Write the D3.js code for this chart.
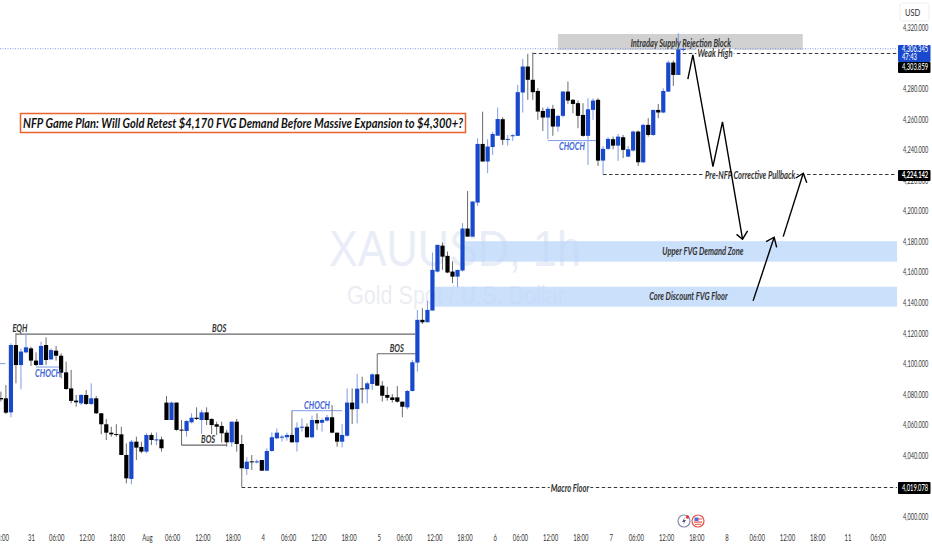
<!DOCTYPE html>
<html><head><meta charset="utf-8">
<script src="https://cdn.jsdelivr.net/npm/d3@7"></script>
<style>
html,body{margin:0;padding:0;background:#fff;overflow:hidden}
svg{display:block}
text{font-family:Lato,"Liberation Sans",sans-serif}
</style></head><body><div id="chart"></div>
<script>
// ---------- data: candles start at hour index -6 (index 0 = 31 July open) ----------
const firstIndex = -6;
const opens = [4077.6,4077.4,4068.2,4112.3,4099.2,4107.5,4110.1,4102.1,4099.2,4112.3,4102.9,4108.6,4105.3,4094.4,4083.9,4075.9,4074.1,4079.6,4073.7,4077.4,4067.6,4060.4,4054.9,4054.0,4053.8,4040.3,4024.6,4049.0,4045.5,4042.5,4053.4,4050.1,4050.5,4074.6,4063.2,4074.6,4056.9,4056.0,4061.7,4064.7,4063.2,4068.2,4063.9,4060.4,4059.3,4054.9,4048.6,4062.1,4047.5,4031.1,4036.1,4035.7,4037.0,4030.0,4042.9,4051.2,4051.6,4051.9,4053.4,4048.6,4058.4,4058.8,4051.9,4063.2,4061.4,4062.8,4065.0,4054.9,4049.0,4052.9,4074.6,4070.4,4083.9,4083.3,4086.8,4093.1,4085.7,4079.6,4078.0,4078.0,4075.2,4071.5,4082.2,4100.8,4128.8,4127.2,4134.9,4160.4,4177.4,4170.7,4160.4,4157.1,4161.1,4188.6,4183.3,4205.6,4244.0,4232.5,4242.0,4249.4,4260.2,4246.7,4249.1,4249.3,4277.7,4294.7,4286.0,4278.7,4265.6,4261.3,4267.0,4255.4,4262.4,4278.3,4272.9,4270.7,4263.0,4249.3,4266.3,4272.9,4233.1,4240.8,4247.1,4242.9,4248.4,4235.7,4239.7,4252.1,4232.0,4256.5,4249.9,4266.3,4264.6,4278.3,4297.3,4289.2,4305.6];
const highs = [4081.8,4086.1,4113.4,4120.0,4110.1,4119.5,4111.2,4107.5,4114.5,4117.3,4110.1,4111.7,4106.9,4101.4,4096.0,4079.6,4080.2,4082.9,4087.2,4078.9,4067.6,4063.9,4058.8,4060.4,4058.8,4047.9,4050.1,4052.3,4049.0,4054.5,4054.9,4055.1,4052.3,4078.9,4075.2,4074.6,4063.2,4063.2,4067.6,4071.5,4069.8,4071.5,4064.3,4062.1,4062.1,4056.7,4062.1,4063.9,4053.4,4038.8,4040.3,4037.4,4037.0,4044.6,4055.1,4057.7,4053.4,4054.9,4054.5,4061.7,4064.3,4061.0,4066.0,4067.6,4064.3,4066.5,4073.0,4054.9,4060.6,4083.9,4083.9,4093.3,4091.6,4088.3,4093.8,4106.6,4088.7,4085.0,4080.2,4085.5,4075.2,4082.9,4102.5,4135.3,4136.4,4141.4,4172.9,4177.9,4179.4,4173.5,4167.0,4161.5,4192.1,4213.2,4206.3,4247.7,4265.1,4247.1,4252.0,4267.8,4261.5,4249.9,4250.4,4282.7,4299.7,4303.0,4303.9,4280.5,4267.8,4268.5,4269.6,4263.0,4278.7,4284.9,4273.3,4272.4,4270.7,4273.9,4273.9,4273.9,4242.7,4248.4,4248.8,4250.6,4249.9,4242.7,4252.8,4252.8,4257.1,4260.9,4266.3,4270.2,4280.5,4298.6,4298.6,4316.5,4307.8];
const lows = [4075.2,4067.1,4065.0,4087.2,4083.3,4106.9,4098.6,4098.6,4099.2,4099.2,4102.5,4102.1,4090.5,4082.9,4074.1,4071.9,4073.0,4073.0,4073.0,4067.1,4053.8,4050.1,4052.3,4052.3,4040.3,4021.7,4021.1,4037.0,4041.4,4041.4,4046.8,4046.8,4042.5,4063.2,4063.2,4056.2,4046.8,4052.3,4061.0,4063.2,4054.0,4059.9,4054.0,4053.4,4048.4,4045.7,4045.7,4042.5,4026.1,4027.2,4030.5,4034.8,4030.0,4030.0,4042.5,4050.6,4049.0,4049.7,4048.4,4042.5,4055.6,4051.6,4051.2,4056.7,4055.6,4062.1,4054.5,4045.7,4045.3,4052.3,4060.6,4061.0,4074.1,4074.1,4082.9,4085.7,4075.2,4075.9,4074.6,4074.6,4065.0,4070.2,4081.8,4094.9,4126.1,4127.2,4134.9,4159.8,4161.5,4159.3,4152.8,4150.2,4160.4,4183.3,4183.3,4203.4,4232.5,4224.8,4236.8,4249.2,4243.4,4242.9,4246.0,4249.3,4264.6,4272.9,4272.9,4259.8,4252.5,4247.1,4249.3,4252.1,4261.5,4270.2,4264.1,4254.3,4248.8,4230.3,4259.8,4229.6,4224.1,4240.1,4240.5,4232.9,4234.7,4235.3,4239.0,4229.6,4231.4,4248.8,4249.3,4260.9,4264.1,4277.9,4282.0,4289.2,4304.5];
const closes = [4076.7,4068.0,4112.3,4099.2,4108.0,4110.8,4102.1,4099.2,4111.7,4102.5,4109.0,4105.3,4094.2,4083.5,4075.7,4074.8,4079.6,4073.7,4077.4,4067.6,4060.4,4054.9,4053.8,4053.4,4040.3,4025.0,4049.0,4045.1,4042.5,4053.4,4050.1,4050.5,4044.7,4063.2,4074.6,4056.7,4056.4,4062.5,4064.7,4063.9,4068.2,4063.2,4059.9,4058.8,4054.5,4048.6,4062.1,4047.5,4031.6,4035.9,4035.7,4036.1,4030.0,4042.9,4051.9,4054.9,4052.3,4053.4,4048.6,4058.2,4058.8,4051.9,4063.2,4061.0,4063.2,4065.0,4054.9,4049.0,4053.4,4074.6,4070.2,4083.7,4083.3,4087.2,4093.1,4085.7,4079.1,4077.8,4076.3,4075.2,4071.9,4082.2,4101.0,4128.8,4127.2,4135.3,4161.5,4177.9,4170.2,4159.8,4157.1,4161.5,4188.6,4183.3,4206.3,4244.0,4232.5,4242.3,4250.5,4260.3,4246.7,4247.3,4249.7,4277.9,4294.7,4286.0,4277.9,4265.2,4261.3,4267.0,4255.4,4262.4,4278.3,4272.4,4270.2,4262.4,4249.3,4266.7,4272.4,4233.1,4240.8,4247.3,4242.9,4248.8,4240.1,4240.5,4252.1,4232.0,4256.5,4249.9,4266.3,4264.6,4278.7,4297.3,4289.2,4306.0,4306.3];

// time axis: [hour index, label]
const timeTickIndex = [-6,0,5,11,17,23,28,34,40,46,51,57,63,69,74,80,86,92,97,103,109,115,120,126,132,138,144,150,156,162,168];
const timeTickLabels = ["18:00","31","06:00","12:00","18:00","Aug","06:00","12:00","18:00","4","06:00","12:00","18:00","5","06:00","12:00","18:00","6","06:00","12:00","18:00","7","06:00","12:00","18:00","8","06:00","12:00","18:00","11","06:00"];
const priceTicks = [4000,4020,4040,4060,4080,4100,4120,4140,4160,4180,4200,4220,4240,4260,4280,4300,4320];

const lastIndex = 172.6;
// zones: [from index, to index, low price, high price]
const demandZones = [[86.5,lastIndex,4166.9,4180.3],[80.5,lastIndex,4137.4,4150.5]];
const supplyZone = [105,153.8,4305.6,4316];
// structure lines: [from index, to index, price]
const greyLines = [[-3,76.6,4119.5],[30,39,4046.8],[69,76.6,4106.6]];
const blueLines = [[-6.2,-5.1,4100.1],[1,5.8,4097.9],[52,62,4069.3],[103,113,4246.2]];
// vertical connectors: [index, price a, price b]
const connectors = [[52,4054,4069.3],[42,4019.078,4026.1]];
// dashed levels: [from index, price]
const dashedLevels = [[100,4303.859],[114,4224.142],[42,4019.078]];
const currentPrice = 4306.345;
// labels: [text, index, price]
const blueLabels = [["CHOCH",3.4,4094],["CHOCH",57,4073],["CHOCH",107.8,4242.7]];
const darkLabels = [["EQH",-2.2,4123.5],["BOS",37.5,4123.5],["BOS",35.3,4050.8],["BOS",72.9,4110.4],
  ["Intraday Supply Rejection Block",129.5,4310.2],["Upper FVG Demand Zone",133.9,4173.9],["Core Discount FVG Floor",131,4144]];
const levelLabels = [["Weak High",136.3,4303.6],["Pre-NFP Corrective Pullback",143.3,4223.7],["Macro Floor",107.4,4018.7]];
// projected path arrows: [index, price] vertices, then two head legs
const arrows = [
 {path:[[130.9,4286.4],[131.9,4302.3],[135.9,4229.1],[137.8,4258.4],[141.8,4181.6]],head:[[140.6,4184.8],[142.8,4187.0]]},
 {path:[[143.9,4141.2],[148.1,4182.9]],head:[[146.5,4180.0],[148.6,4176.3]]},
 {path:[[149.9,4183.3],[153.9,4224.8]],head:[[152.4,4221.7],[154.6,4218.6]]}
];
const title = "NFP Game Plan: Will Gold Retest $4,170 FVG Demand Before Massive Expansion to $4,300+?";
const symbolText = "XAUUSD, 1h";
const symbolName = "Gold Spot / U.S. Dollar";

// ---------- chart ----------
const W=932,H=550,BLUE="#1848cc",BLUEW="#7f9be8",BLACK="#000",BLACKW="#6b6b6b";
const svg=d3.select("#chart").append("svg").attr("width",W).attr("height",H);
const x=d3.scaleLinear().domain([0,1]).range([31,36.018]);
const xTime=d3.scaleLinear().domain([0,1]).range([31,36.04]);
const y=d3.scaleLinear().domain([4000,4320]).range([516.5,27.9]);
const candles=opens.map((o,k)=>({i:firstIndex+k,o,h:highs[k],l:lows[k],c:closes[k],up:closes[k]>=o}));
// narrow a text selection horizontally (the reference uses a condensed face)
const squeeze=(sel,f)=>sel.each(function(){const n=this.getComputedTextLength();
  d3.select(this).attr("textLength",n*f).attr("lengthAdjust","spacingAndGlyphs");});

// watermark
svg.append("text").attr("x",455).attr("y",266).attr("text-anchor","middle").attr("font-size",50).attr("fill","#e9edf7")
  .style("font-family","'Liberation Sans',sans-serif").attr("textLength",252).attr("lengthAdjust","spacingAndGlyphs").text(symbolText);
svg.append("text").attr("x",456).attr("y",304).attr("text-anchor","middle").attr("font-size",25).attr("fill","#ebedf3")
  .style("font-family","'Liberation Sans',sans-serif").attr("textLength",218).attr("lengthAdjust","spacingAndGlyphs").text(symbolName);

// zones
svg.selectAll(".z").data(demandZones).join("rect").attr("x",d=>x(d[0])).attr("width",d=>x(d[1])-x(d[0]))
  .attr("y",d=>y(d[3])).attr("height",d=>y(d[2])-y(d[3])).attr("fill","#bcd7fa").attr("fill-opacity",.78);
svg.append("rect").datum(supplyZone).attr("x",d=>x(d[0])).attr("width",d=>x(d[1])-x(d[0]))
  .attr("y",d=>y(d[3])).attr("height",d=>y(d[2])-y(d[3])).attr("fill","#d1d1d1");

// title box
svg.append("rect").attr("x",20.5).attr("y",113.5).attr("width",445).attr("height",19).attr("fill","#fff").attr("stroke","#e8622c").attr("stroke-width",1.5);
svg.append("text").attr("x",23).attr("y",127.5).attr("font-size",13.5).attr("font-style","italic").attr("fill","#111")
  .attr("textLength",440).attr("lengthAdjust","spacingAndGlyphs").style("font-weight",700).text(title);

// price line
svg.append("line").attr("x1",0).attr("x2",x(lastIndex)).attr("y1",y(currentPrice)).attr("y2",y(currentPrice))
  .attr("stroke","#7f9be8").attr("stroke-width",1).attr("stroke-dasharray","1 1.5");

// dashed levels
svg.selectAll(".lvl").data(dashedLevels).join("line").attr("x1",d=>x(d[0])).attr("x2",x(lastIndex))
  .attr("y1",d=>Math.round(y(d[1]))+.5).attr("y2",d=>Math.round(y(d[1]))+.5).attr("stroke","#222").attr("stroke-dasharray","3.5 2.5").attr("stroke-width",.9);

// structure
const hline=(data,color,w)=>svg.append("g").selectAll("line").data(data).join("line").attr("x1",d=>x(d[0])).attr("x2",d=>x(d[1]))
  .attr("y1",d=>y(d[2])).attr("y2",d=>y(d[2])).attr("stroke",color).attr("stroke-width",w);
hline(greyLines,"#666",1.2); hline(blueLines,"#7f9be8",1);
svg.append("g").selectAll("line").data(connectors).join("line").attr("x1",d=>x(d[0])).attr("x2",d=>x(d[0]))
  .attr("y1",d=>y(d[1])).attr("y2",d=>y(d[2])).attr("stroke","#707070");

// candles
const g=svg.append("g").selectAll("g").data(candles).join("g");
g.append("line").attr("x1",d=>x(d.i)).attr("x2",d=>x(d.i)).attr("y1",d=>y(d.h)).attr("y2",d=>y(d.l))
  .attr("stroke",d=>d.up?BLUEW:BLACKW).attr("stroke-width",1);
g.append("rect").attr("x",d=>x(d.i)-2.1).attr("width",4.2).attr("y",d=>y(Math.max(d.o,d.c)))
  .attr("height",d=>Math.max(1,Math.abs(y(d.o)-y(d.c)))).attr("fill",d=>d.up?BLUE:BLACK);

// labels
const lab=(data,color,halo)=>{
  const t=svg.append("g").selectAll("g").data(data).join("g").attr("transform",d=>`translate(${x(d[1])},${y(d[2])})`);
  if(halo) t.append("rect").attr("fill","#fff");
  const tx=t.append("text").attr("text-anchor","middle").attr("dy","0.35em").attr("font-size",10.5).attr("font-style","italic").attr("fill",color)
   .style("font-weight",700).text(d=>d[0]);
  squeeze(tx,.72);
  if(halo) t.each(function(){const n=d3.select(this),b=n.select("text").node().getBBox();
    n.select("rect").attr("x",b.x-1).attr("y",b.y+2).attr("width",b.width+2).attr("height",b.height-4);});
};
lab(darkLabels,"#333",false); lab(blueLabels,"#3f66d6",false); lab(levelLabels,"#333",true);

// arrows
const ln=d3.line().x(d=>x(d[0])).y(d=>y(d[1]));
arrows.forEach(a=>{
  const tip=a.path[a.path.length-1];
  [a.path,[a.head[0],tip,a.head[1]]].forEach(p=>svg.append("path").attr("d",ln(p)).attr("fill","none").attr("stroke","#000").attr("stroke-width",1.4));
});

// price axis
const axisY=svg.append("g").attr("transform","translate(903,0)").call(d3.axisRight(y).tickValues(priceTicks).tickFormat(d3.format(",.3f")).tickSize(0).tickPadding(0));
axisY.select(".domain").remove();
const yTickText=axisY.selectAll("text").attr("font-size",8.5).attr("fill","#333").style("font-family","Lato,sans-serif");
squeeze(yTickText,.66);

// price boxes
const box=(px,py,w,h,fill)=>svg.append("rect").attr("x",px).attr("y",py).attr("width",w).attr("height",h).attr("fill",fill).attr("rx",1);
const bt=(px,py,t,wt)=>squeeze(svg.append("text").attr("x",px).attr("y",py).attr("dy","0.35em").attr("font-size",8.5).attr("fill","#fff").style("font-weight",wt||500).text(t),.68);
box(898,45,32.5,17,BLUE); bt(902,49.5,d3.format(",.3f")(currentPrice)); bt(902,57.5,"47:43");
box(898,62,32.5,11,"#000"); bt(902,67.5,d3.format(",.3f")(dashedLevels[0][1]));
box(898,170,32.5,11,"#000"); bt(902,175.5,d3.format(",.3f")(dashedLevels[1][1]),700);
box(898,482,32.5,12,"#000"); bt(902,488,d3.format(",.3f")(dashedLevels[2][1]));

// USD button
svg.append("rect").attr("x",900).attr("y",3).attr("width",29).attr("height",18).attr("rx",3).attr("fill","#fff").attr("stroke","#eee");
squeeze(svg.append("text").attr("x",905).attr("y",12.5).attr("dy","0.35em").attr("font-size",10).attr("fill","#333").text("USD"),.75);

// time axis
const axisX=svg.append("g").attr("transform","translate(0,535)").call(d3.axisBottom(xTime).tickValues(timeTickIndex).tickFormat((d,k)=>timeTickLabels[k]).tickSize(0).tickPadding(0));
axisX.select(".domain").remove();
const xTickText=axisX.selectAll("text").attr("font-size",8.5).attr("fill","#333").style("font-family","Lato,sans-serif");
squeeze(xTickText,.7);

// event icons
const ev=svg.append("g").attr("transform","translate(684,521)");
ev.append("circle").attr("r",6).attr("fill","#fff").attr("stroke","#8a8fb0").attr("stroke-width",1.2);
ev.append("path").attr("d","M1,-4 L-2,1 L0,1 L-1,4 L2,-1 L0,-1 Z").attr("fill","#555a80");
ev.append("circle").attr("cx",3.5).attr("cy",-4).attr("r",1.7).attr("fill","#e53935");
const fl=svg.append("g").attr("transform","translate(698,521)");
fl.append("circle").attr("r",6).attr("fill","#fff").attr("stroke","#e8524a").attr("stroke-width",1.2);
fl.append("rect").attr("x",-3.5).attr("y",-3.5).attr("width",4).attr("height",3.5).attr("fill","#4a6fd0");
fl.append("rect").attr("x",0).attr("y",-2.5).attr("width",4).attr("height",1).attr("fill","#e8524a");
fl.append("rect").attr("x",-4).attr("y",0.5).attr("width",8).attr("height",1.2).attr("fill","#e8524a");
fl.append("rect").attr("x",-3).attr("y",2.8).attr("width",6).attr("height",1).attr("fill","#e8524a");
</script></body></html>
